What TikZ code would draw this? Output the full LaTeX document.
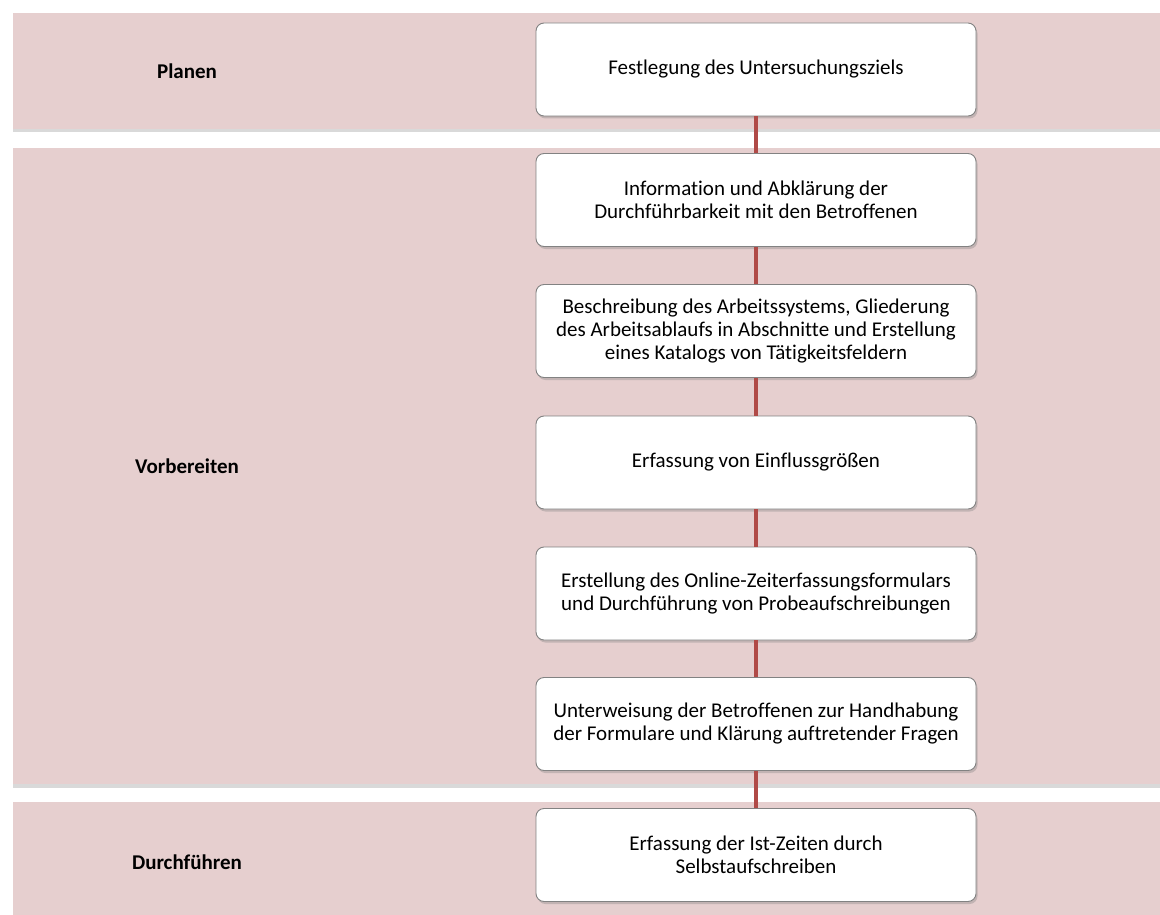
\documentclass[tikz,border=0pt]{standalone}
\usepackage{fontspec}
\setmainfont[Ligatures={NoCommon}]{Carlito}
\usetikzlibrary{shadows}
\definecolor{bandrose}{RGB}{230,207,207}
\definecolor{linkred}{RGB}{176,74,71}
\definecolor{boxgray}{RGB}{130,130,130}

\begin{document}
\begin{tikzpicture}[x=1pt, y=-1pt,
  font=\fontsize{21}{23}\selectfont,
  band/.style={fill=bandrose, drop shadow={shadow xshift=0pt, shadow yshift=-3.5pt, opacity=0.3}},
  phase/.style={font=\fontsize{21}{23}\selectfont\bfseries},
  stepbox/.style={draw=boxgray, line width=0.9pt, fill=white, rounded corners=8pt,
    minimum width=440pt, minimum height=93pt, align=center, inner sep=2pt,
    drop shadow={shadow xshift=1.5pt, shadow yshift=-2.5pt, opacity=0.35}},
  link/.style={draw=linkred, line width=4.5pt}]

\useasboundingbox (0,0) rectangle (1160,915);
\clip (0,0) rectangle (1160,915);

% phase bands
\fill[band] (13,13) rectangle (1175,129);
\fill[band] (13,148) rectangle (1175,784);
\fill[band] (13,802) rectangle (1175,922);

% phase names
\node[phase] (planen) at (187,71) {Planen};
\node[phase] (vorbereiten) at (187,466) {Vorbereiten};
\node[phase] (durchfuehren) at (187,862) {Durchführen};

% steps
\node[stepbox] (ziel) at (756,69.5) {Festlegung des Untersuchungsziels};
\node[stepbox] (info) at (756,200) {Information und Abklärung der\\Durchführbarkeit mit den Betroffenen};
\node[stepbox] (system) at (756,331) {Beschreibung des Arbeitssystems, Gliederung\\des Arbeitsablaufs in Abschnitte und Erstellung\\eines Katalogs von Tätigkeitsfeldern};
\node[stepbox] (einfluss) at (756,462.5) {Erfassung von Einflussgrößen};
\node[stepbox] (formular) at (756,593.5) {Erstellung des Online-Zeiterfassungsformulars\\und Durchführung von Probeaufschreibungen};
\node[stepbox] (unterweisung) at (756,724) {Unterweisung der Betroffenen zur Handhabung\\der Formulare und Klärung auftretender Fragen};
\node[stepbox] (istzeit) at (756,855) {Erfassung der Ist-Zeiten durch\\Selbstaufschreiben};

% links between steps
\draw[link] (ziel.south) -- (info.north);
\draw[link] (info.south) -- (system.north);
\draw[link] (system.south) -- (einfluss.north);
\draw[link] (einfluss.south) -- (formular.north);
\draw[link] (formular.south) -- (unterweisung.north);
\draw[link] (unterweisung.south) -- (istzeit.north);

\end{tikzpicture}
\end{document}
